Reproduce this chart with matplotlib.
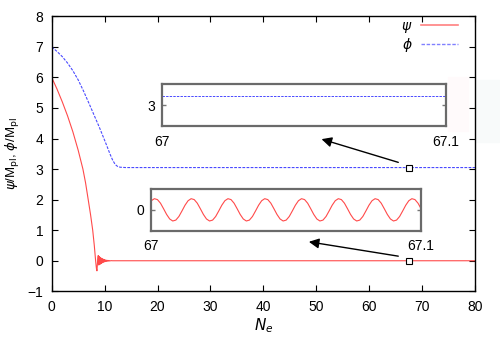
import matplotlib
matplotlib.use('Agg')
import matplotlib.pyplot as plt
from matplotlib.patches import Rectangle
import numpy as np

plt.rcParams['font.family'] = ['Liberation Sans', 'DejaVu Sans']
plt.rcParams['mathtext.fontset'] = 'dejavusans'

# psi field (red)
psi_N = [0, 1, 2, 3, 4, 5, 5.9, 6.4, 6.9, 7.35, 7.75, 8.05, 8.3, 8.45, 8.55,
         8.7, 8.8, 8.9, 9.0, 9.08, 9.16, 9.24, 9.32, 9.4, 9.48, 9.56, 9.64,
         9.72, 9.8, 9.88, 9.96, 10.04, 10.12, 10.2, 10.3, 10.4, 10.5, 10.6,
         10.7, 10.8, 10.9, 11.0, 11.2, 11.5, 80]
psi_val = [6.0, 5.62, 5.2, 4.74, 4.22, 3.62, 3.0, 2.55, 2.0, 1.5, 1.0, 0.5, 0.0, -0.25, -0.33,
           0.05, 0.17, -0.14, 0.14, -0.12, 0.11, -0.1, 0.09, -0.08, 0.07, -0.065, 0.06,
           -0.05, 0.045, -0.04, 0.035, -0.03, 0.027, -0.024, 0.02, -0.017, 0.014, -0.012,
           0.01, -0.008, 0.006, -0.005, 0.003, 0.0, 0.0]

# phi field (blue)
phi_N = [0, 1, 2, 3, 4, 5, 6, 7, 8, 9, 9.75, 10.4, 11.0, 11.5, 12.0,
         12.5, 13.0, 14.0, 80]
phi_val = [7.0, 6.85, 6.68, 6.47, 6.22, 5.92, 5.56, 5.17, 4.77, 4.37, 4.05, 3.77, 3.5,
           3.3, 3.15, 3.08, 3.06, 3.05, 3.05]

# zoom windows (N from 67 to 67.1)
zoom_N = [67.0, 67.1]
zoom_phi = [3.05, 3.05]
# psi in the zoom window, sampled every 0.001137 in N, units of 1e-3
osc_cycle = [0.81, 0.99, 0.91, 0.59, 0.10, -0.41, -0.81, -0.99, -0.91, -0.59, -0.10, 0.41]
osc_val = (osc_cycle * 8)[:89]
osc_N = 67.0 + 0.0011367 * np.arange(len(osc_val))
osc_val = np.array(osc_val) * 1e-3

mark_N = 67.5

red = '#ff4a4a'
blue = '#4a4aff'

fig = plt.figure(figsize=(5, 3.5), dpi=100)
ax = fig.add_axes([0.1034, 0.1677, 0.8466, 0.7857])
ax.set_facecolor('none')

ax.plot(psi_N, psi_val, color=red, lw=0.8, label=r'$\psi$')
ax.plot(phi_N, phi_val, color=blue, lw=0.8, ls=(0, (2.5, 1.2)), label=r'$\phi$')

ax.plot([mark_N], [phi_val[-1]], 's', ms=4.5, mfc='white', mec='black', mew=0.8)
ax.plot([mark_N], [psi_val[-1]], 's', ms=4.5, mfc='white', mec='black', mew=0.8)

ax.annotate('', xy=(51.0, 3.98), xytext=(65.5, 3.22),
            arrowprops=dict(arrowstyle='-|>', color='black', lw=1.0,
                            mutation_scale=15, shrinkA=0, shrinkB=0))
ax.annotate('', xy=(48.6, 0.62), xytext=(65.5, 0.15),
            arrowprops=dict(arrowstyle='-|>', color='black', lw=1.0,
                            mutation_scale=15, shrinkA=0, shrinkB=0))

ax.set_xlim(0, 80)
ax.set_ylim(-1, 8)
ax.set_xticks(range(0, 81, 10))
ax.set_yticks(range(-1, 9))
ax.tick_params(direction='in', length=4, width=0.8, top=True, right=True,
               labelsize=10, pad=6)
for s in ax.spines.values():
    s.set_linewidth(1.0)

ax.set_xlabel(r'$N_e$', fontsize=11, labelpad=2)
ax.set_ylabel(r'$\psi$/M$_{\rm pl}$, $\phi$/M$_{\rm pl}$', fontsize=9.5, labelpad=4)

leg = ax.legend(loc='upper right', bbox_to_anchor=(0.96, 0.99), markerfirst=False,
                frameon=False, fontsize=10, handlelength=2.7, handletextpad=0.6,
                labelspacing=0.05, borderaxespad=0, borderpad=0)
leg.get_lines()[0].set_color('#ff8080')
leg.get_lines()[0].set_linewidth(1.2)
leg.get_lines()[1].set_color('#8080ff')
leg.get_lines()[1].set_linewidth(1.0)

# faint rectangles on the right edge
fig.patches.append(Rectangle((448 / 500, 1 - 131 / 350), 20 / 500, 54 / 350,
                             transform=fig.transFigure, color='#fffafb', zorder=-5))
fig.patches.append(Rectangle((476 / 500, 1 - 142 / 350), 23 / 500, 62 / 350,
                             transform=fig.transFigure, color='#f8fafa', zorder=-5))


def style_inset(a):
    for s in a.spines.values():
        s.set_color('#6a6a6a')
        s.set_linewidth(1.6)
    a.tick_params(direction='in', length=3, width=1, colors='#777777',
                  labelcolor='black', labelsize=10, right=True, pad=5)
    a.set_xticks(zoom_N)
    a.set_xticklabels(['67', '67.1'])
    a.tick_params(axis='x', length=0, pad=6)


ax1 = fig.add_axes([0.3246, 0.6391, 0.5668, 0.1217])
ax1.plot(zoom_N, zoom_phi, color=blue, lw=0.7, ls=(0, (2.5, 1.2)))
ax1.set_xlim(67.0, 67.1)
ax1.set_ylim(2.89, 3.112)
ax1.set_yticks([3])
style_inset(ax1)

ax2 = fig.add_axes([0.3026, 0.3409, 0.5394, 0.1191])
ax2.plot(osc_N, osc_val, color=red, lw=0.8)
ax2.set_xlim(67.0, 67.1)
ax2.set_ylim(-1.85e-3, 1.85e-3)
ax2.set_yticks([0])
style_inset(ax2)

fig.savefig('out.png', dpi=100)
